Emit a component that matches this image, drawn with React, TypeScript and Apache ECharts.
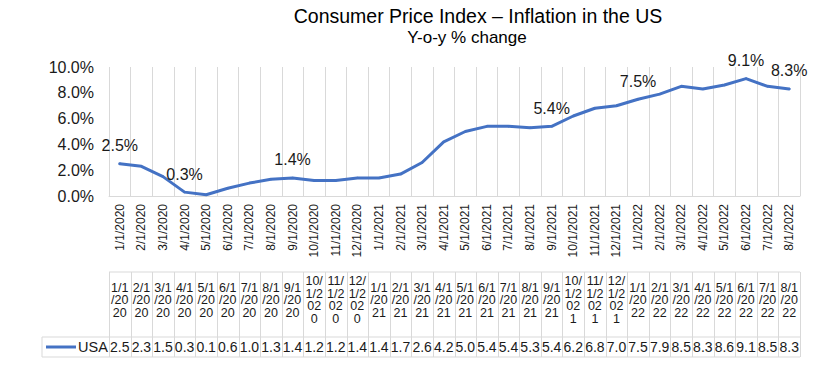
import React, { useEffect, useRef } from "react";
import * as echarts from "echarts";

const categories = [
  "1/1/2020", "2/1/2020", "3/1/2020", "4/1/2020", "5/1/2020", "6/1/2020", "7/1/2020", "8/1/2020",
  "9/1/2020", "10/1/2020", "11/1/2020", "12/1/2020", "1/1/2021", "2/1/2021", "3/1/2021", "4/1/2021",
  "5/1/2021", "6/1/2021", "7/1/2021", "8/1/2021", "9/1/2021", "10/1/2021", "11/1/2021", "12/1/2021",
  "1/1/2022", "2/1/2022", "3/1/2022", "4/1/2022", "5/1/2022", "6/1/2022", "7/1/2022", "8/1/2022",
];
const usaValues = [
  2.5, 2.3, 1.5, 0.3, 0.1, 0.6, 1.0, 1.3, 1.4, 1.2, 1.2, 1.4, 1.4, 1.7, 2.6, 4.2,
  5.0, 5.4, 5.4, 5.3, 5.4, 6.2, 6.8, 7.0, 7.5, 7.9, 8.5, 8.3, 8.6, 9.1, 8.5, 8.3,
];
const labeledIndices = [0, 3, 8, 20, 24, 29, 31];
const seriesName = "USA";
const titleText = "Consumer Price Index – Inflation in the US";
const subtitleText = "Y-o-y % change";
const yMin = 0;
const yMax = 10;
const yInterval = 2;

const FONT = "'Liberation Sans', Arial, sans-serif";
const LINE_COLOR = "#4472C4";
const GRID_COLOR = "#D9D9D9";
const TEXT_COLOR = "#1a1a1a";

// emulate Excel's character wrapping in the narrow table columns
const charW: Record<string, number> = { "/": 0.278 };
function wrapLabel(s: string, fontSize: number, maxW: number): string {
  const lines: string[] = [];
  let cur = "";
  let w = 0;
  for (const ch of s) {
    const cw = (charW[ch] ?? 0.556) * fontSize;
    if (cur && w + cw > maxW) {
      lines.push(cur);
      cur = ch;
      w = cw;
    } else {
      cur += ch;
      w += cw;
    }
  }
  if (cur) lines.push(cur);
  return lines.join("\n");
}

export default function App() {
  const ref = useRef<HTMLDivElement>(null);
  useEffect(() => {
    if (!ref.current) return;
    const chart = echarts.init(ref.current, null, { renderer: "svg" });
    const labeledSet = new Set(labeledIndices);
    chart.setOption({
      animation: false,
      textStyle: { fontFamily: FONT },
      grid: { left: 109, right: 33, top: 67, bottom: 171 },
      xAxis: {
        type: "category",
        data: categories,
        boundaryGap: true,
        axisLine: { show: true, lineStyle: { color: GRID_COLOR, width: 1 } },
        axisTick: { show: false },
        axisLabel: { rotate: 90, interval: 0, fontSize: 12, color: TEXT_COLOR, margin: 8, fontFamily: FONT },
        splitLine: { show: true, interval: 0, lineStyle: { color: GRID_COLOR, width: 1 } },
      },
      yAxis: {
        type: "value",
        min: yMin,
        max: yMax,
        interval: yInterval,
        axisLine: { show: false },
        axisTick: { show: false },
        splitLine: { show: false },
        axisLabel: {
          fontSize: 16,
          color: TEXT_COLOR,
          margin: 15,
          fontFamily: FONT,
          formatter: (v: number) => v.toFixed(1) + "%",
        },
      },
      series: [
        {
          name: seriesName,
          type: "line",
          symbol: "circle",
          symbolSize: 2,
          showSymbol: true,
          itemStyle: { color: LINE_COLOR },
          lineStyle: { color: LINE_COLOR, width: 3, cap: "round", join: "round" },
          labelLayout: { hideOverlap: false },
          data: usaValues.map((v, i) => ({
            value: v,
            label: {
              show: labeledSet.has(i),
              position: "top",
              distance: 9,
              fontSize: 16,
              color: TEXT_COLOR,
              fontFamily: FONT,
              formatter: (p: any) => Number(p.value).toFixed(1) + "%",
            },
          })),
        },
      ],
    });

    // build the data table from the axis' own pixel positions
    const x0 = chart.convertToPixel({ xAxisIndex: 0 }, 0) as number;
    const x1 = chart.convertToPixel({ xAxisIndex: 0 }, 1) as number;
    const band = x1 - x0;
    const tLeft = x0 - band / 2;
    const tRight = tLeft + band * categories.length;
    const headTop = 272;
    const rowSep = 337;
    const rowBot = 357;
    const legendLeft = 42;
    const lineStyle = { stroke: GRID_COLOR, lineWidth: 1 };
    const els: any[] = [];
    els.push({ type: "line", shape: { x1: tLeft, y1: headTop, x2: tRight, y2: headTop }, style: lineStyle, silent: true });
    els.push({ type: "line", shape: { x1: legendLeft, y1: rowSep, x2: tRight, y2: rowSep }, style: lineStyle, silent: true });
    els.push({ type: "line", shape: { x1: legendLeft, y1: rowBot, x2: tRight, y2: rowBot }, style: lineStyle, silent: true });
    els.push({ type: "line", shape: { x1: legendLeft, y1: rowSep, x2: legendLeft, y2: rowBot }, style: lineStyle, silent: true });
    for (let i = 0; i <= categories.length; i++) {
      const bx = Math.round(tLeft + band * i) + 0.5;
      els.push({ type: "line", shape: { x1: bx, y1: headTop, x2: bx, y2: rowBot }, style: lineStyle, silent: true });
    }
    categories.forEach((c, i) => {
      const cx = chart.convertToPixel({ xAxisIndex: 0 }, i) as number;
      els.push({
        type: "text",
        x: cx,
        y: 300,
        silent: true,
        style: {
          text: wrapLabel(c, 12.5, 19),
          fontSize: 12.5,
          lineHeight: 12.5,
          fontFamily: FONT,
          fill: TEXT_COLOR,
          align: "center",
          verticalAlign: "middle",
        },
      });
      els.push({
        type: "text",
        x: cx,
        y: 347,
        silent: true,
        style: {
          text: usaValues[i].toFixed(1),
          fontSize: 14,
          fontFamily: FONT,
          fill: TEXT_COLOR,
          align: "center",
          verticalAlign: "middle",
        },
      });
    });
    els.push({ type: "line", shape: { x1: 46, y1: 347, x2: 76, y2: 347 }, style: { stroke: LINE_COLOR, lineWidth: 3 }, silent: true });
    els.push({
      type: "text", x: 78, y: 347, silent: true,
      style: { text: seriesName, fontSize: 14.5, fontFamily: FONT, fill: TEXT_COLOR, align: "left", verticalAlign: "middle" },
    });
    els.push({
      type: "text", x: 478, y: 16, silent: true,
      style: { text: titleText, fontSize: 19.5, fontFamily: FONT, fill: "#000", align: "center", verticalAlign: "middle" },
    });
    els.push({
      type: "text", x: 467, y: 37, silent: true,
      style: { text: subtitleText, fontSize: 17, fontFamily: FONT, fill: "#000", align: "center", verticalAlign: "middle" },
    });
    chart.setOption({ graphic: { elements: els } });

    return () => chart.dispose();
  }, []);
  return <div ref={ref} style={{ width: 833, height: 367, position: "absolute", left: 0, top: 0 }} />;
}
